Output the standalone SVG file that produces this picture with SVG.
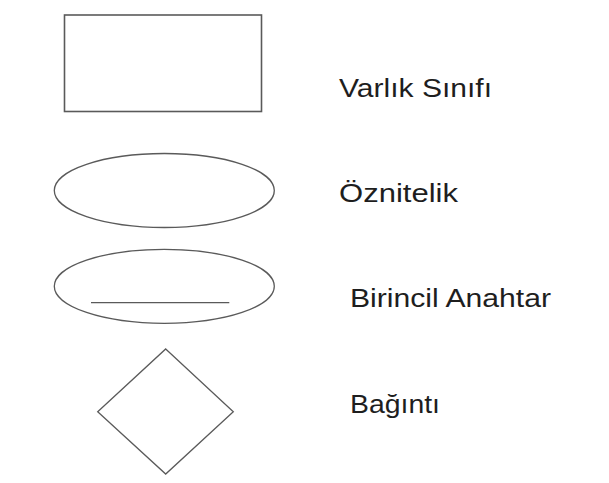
<svg xmlns="http://www.w3.org/2000/svg" width="609" height="483" viewBox="0 0 609 483">
<style>
.shape{fill:#fff;stroke:#5a5a5a;stroke-width:1.3}
.lbl{font-family:"Liberation Sans",Arial,sans-serif;font-size:26px;fill:#1e1e1e}
</style>
<rect width="609" height="483" fill="#fff"/>
<g id="varlik">
<rect class="shape" x="64.5" y="15" width="197" height="96.5" style="stroke-width:1.6"/>
<text class="lbl" x="339" y="97" textLength="153" lengthAdjust="spacingAndGlyphs">Varlık Sınıfı</text>
</g>
<g id="oznitelik">
<ellipse class="shape" cx="164.3" cy="190.5" rx="110" ry="37"/>
<text class="lbl" x="339" y="201.5" textLength="119" lengthAdjust="spacingAndGlyphs">Öznitelik</text>
</g>
<g id="birincil">
<ellipse class="shape" cx="164.3" cy="286.3" rx="110" ry="37"/>
<line class="shape" x1="91" y1="302.7" x2="229.3" y2="302.7"/>
<text class="lbl" x="350" y="306.5" textLength="201" lengthAdjust="spacingAndGlyphs">Birincil Anahtar</text>
</g>
<g id="baginti">
<polygon class="shape" points="165.7,349 233.3,411.7 165.7,474 97.7,411.7"/>
<text class="lbl" x="350" y="413.3" textLength="90" lengthAdjust="spacingAndGlyphs">Bağıntı</text>
</g>
<g id="connectors"/>
</svg>
